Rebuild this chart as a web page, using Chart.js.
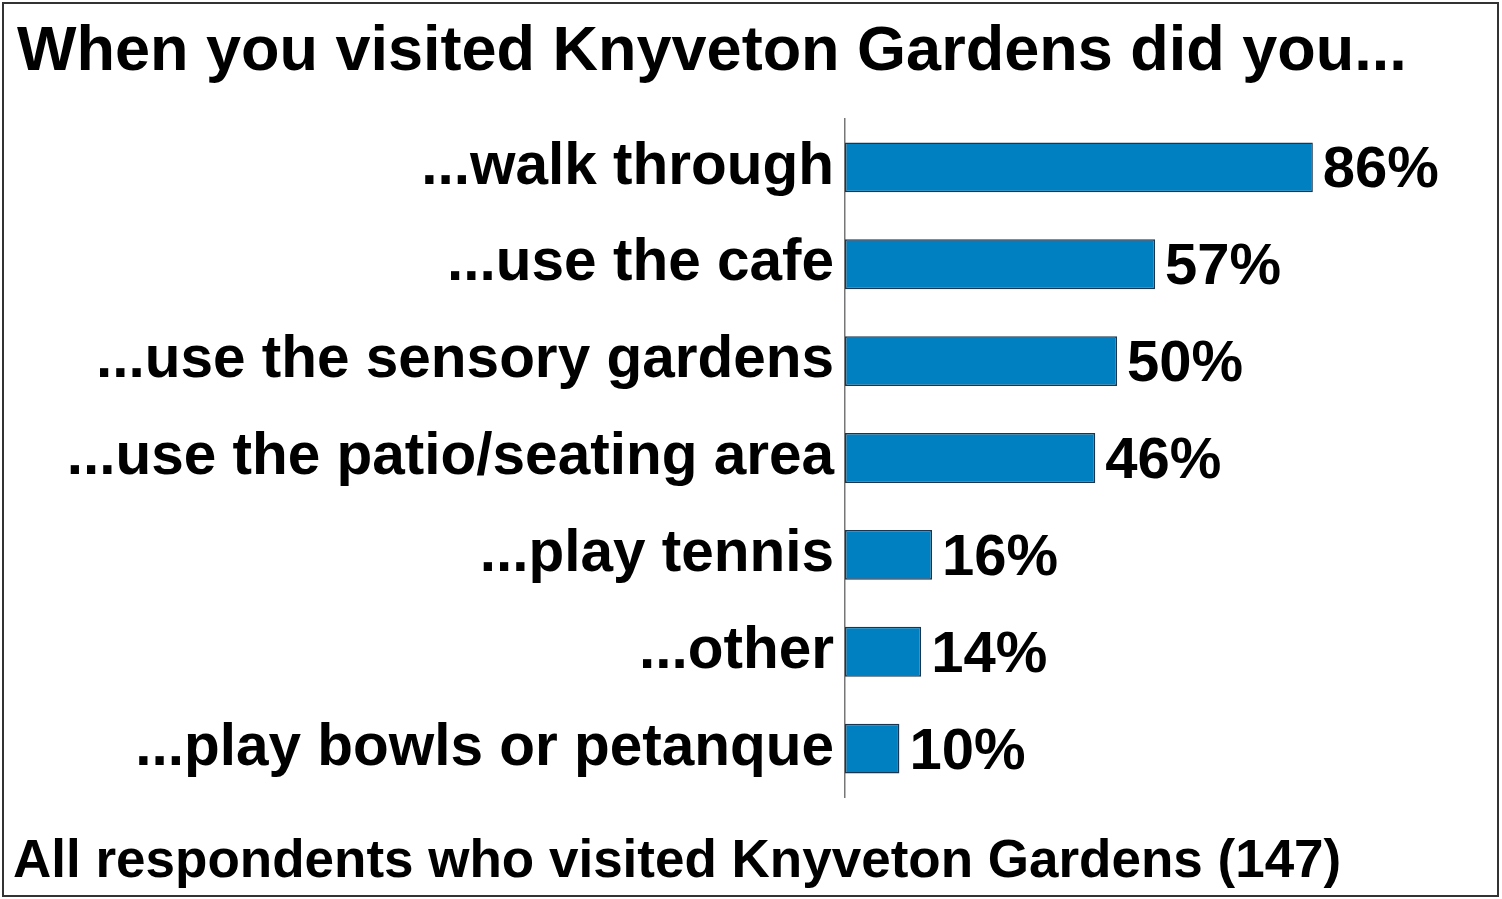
<!DOCTYPE html>
<html>
<head>
<meta charset="utf-8">
<script src="https://cdn.jsdelivr.net/npm/chart.js@4.4.1/dist/chart.umd.min.js"></script>
<style>
  html, body { margin: 0; padding: 0; background: #fff; }
  #wrap { width: 1502px; height: 899px; position: relative; }
</style>
</head>
<body>
<div id="wrap"><canvas id="chart" width="1502" height="899"></canvas></div>
<script>
  const TITLE = 'When you visited Knyveton Gardens did you...';
  const FOOTER = 'All respondents who visited Knyveton Gardens (147)';

  const categories = [
    '...walk through',
    '...use the cafe',
    '...use the sensory gardens',
    '...use the patio/seating area',
    '...play tennis',
    '...other',
    '...play bowls or petanque'
  ];
  const values = [86, 57, 50, 46, 16, 14, 10];

  const BAR_COLOR = '#0080C0';
  const FONT = "'Liberation Sans', Arial, sans-serif";

  // frame, title and footer
  const textPlugin = {
    id: 'frameText',
    afterDraw(chart) {
      const ctx = chart.ctx;
      ctx.save();
      ctx.strokeStyle = '#333';
      ctx.lineWidth = 2;
      ctx.strokeRect(3, 3, 1495, 893);
      ctx.fillStyle = '#000';
      ctx.textAlign = 'left';
      ctx.textBaseline = 'alphabetic';
      ctx.font = 'bold 63px ' + FONT;
      ctx.fillText(TITLE, 17, 70);
      ctx.font = 'bold 53px ' + FONT;
      ctx.fillText(FOOTER, 13, 877);
      ctx.restore();
    }
  };

  // value labels at bar ends
  const valueLabels = {
    id: 'valueLabels',
    afterDatasetsDraw(chart) {
      const ctx = chart.ctx;
      const meta = chart.getDatasetMeta(0);
      ctx.save();
      ctx.fillStyle = '#000';
      ctx.font = 'bold 58px ' + FONT;
      ctx.textAlign = 'left';
      ctx.textBaseline = 'alphabetic';
      meta.data.forEach((bar, i) => {
        ctx.fillText(values[i] + '%', bar.x + 10, bar.y + 20);
      });
      ctx.restore();
    }
  };

  new Chart(document.getElementById('chart'), {
    type: 'bar',
    data: {
      labels: categories,
      datasets: [{
        data: values,
        backgroundColor: BAR_COLOR,
        borderColor: '#1a3550',
        borderWidth: 1.5,
        borderSkipped: false,
        barPercentage: 0.515,
        categoryPercentage: 1
      }]
    },
    options: {
      indexAxis: 'y',
      responsive: false,
      animation: false,
      events: [],
      layout: { padding: { top: 119, bottom: 102, left: 0, right: 113 } },
      plugins: {
        legend: { display: false },
        tooltip: { enabled: false },
        title: { display: false }
      },
      scales: {
        x: {
          min: 0,
          max: 100,
          display: false
        },
        y: {
          afterFit(scale) { scale.width = 845; },
          grid: { display: false, drawTicks: false },
          border: { display: true, color: '#777', width: 1.5 },
          ticks: {
            color: '#000',
            padding: 11,
            font: { family: FONT, size: 58.5, weight: 'bold' }
          }
        }
      }
    },
    plugins: [textPlugin, valueLabels]
  });
</script>
</body>
</html>
